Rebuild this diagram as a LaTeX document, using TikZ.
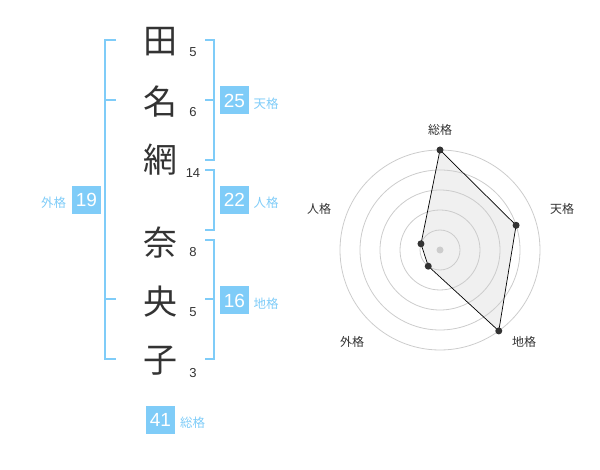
\documentclass[tikz,border=0pt]{standalone}
\usepackage{fontspec}
\setmainfont{Liberation Sans}
\newfontfamily\cjk{Noto Sans CJK JP}
\definecolor{sky}{RGB}{127,204,248}
\definecolor{ink}{RGB}{51,51,51}
\definecolor{ringc}{RGB}{204,204,204}
\definecolor{areac}{RGB}{240,240,240}
\begin{document}
\begin{tikzpicture}[x=1pt,y=-1pt,
  kanji/.style={font=\cjk\fontsize{34}{34}\selectfont, text=ink, inner sep=0},
  strokenum/.style={font=\fontsize{13}{13}\selectfont, text=ink, inner sep=0},
  valbox/.style={fill=sky, text=white, minimum width=29pt, minimum height=28pt, inner sep=0, font=\fontsize{19}{19}\selectfont},
  lab/.style={font=\cjk\fontsize{12.5}{12.5}\selectfont, text=sky, inner sep=0},
  brk/.style={draw=sky, line width=2pt},
  ring/.style={draw=ringc, line width=0.8pt},
  dot/.style={circle, fill=ink, inner sep=0, minimum size=7pt},
  axlab/.style={font=\cjk\fontsize{12}{12}\selectfont, text=ink, inner sep=0},
  edge/.style={draw=black, line width=0.7pt}]
\useasboundingbox (0,0) rectangle (600,470);

% kanji
\node[kanji] (k1) at (160,42) {田};
\node[kanji] (k2) at (160,101.5) {名};
\node[kanji] (k3) at (160,160) {網};
\node[kanji] (k4) at (160,243) {奈};
\node[kanji] (k5) at (160,301.5) {央};
\node[kanji] (k6) at (160,361) {子};
% stroke counts
\node[strokenum] (n1) at (193,52.5) {5};
\node[strokenum] (n2) at (193,112.5) {6};
\node[strokenum] (n3) at (193,173) {14};
\node[strokenum] (n4) at (193,252.5) {8};
\node[strokenum] (n5) at (193,312.5) {5};
\node[strokenum] (n6) at (193,373) {3};

% brackets
\draw[brk] (116,40) -- (105,40) -- (105,359) -- (116,359);
\draw[brk] (105,100) -- (116,100);
\draw[brk] (105,299.5) -- (116,299.5);
\draw[brk] (205,40) -- (214,40) -- (214,160) -- (205,160);
\draw[brk] (214,100) -- (205,100);
\draw[brk] (205,170) -- (214,170) -- (214,230) -- (205,230);
\draw[brk] (205,240) -- (214,240) -- (214,359) -- (205,359);
\draw[brk] (214,299.5) -- (205,299.5);

% value boxes
\node[valbox] (gai) at (86.5,200) {19};
\node[lab] (gail) at (53.5,203) {外格};
\node[valbox] (ten) at (234.5,100.5) {25};
\node[lab] (tenl) at (266,104) {天格};
\node[valbox] (jin) at (234.5,200) {22};
\node[lab] (jinl) at (266,203) {人格};
\node[valbox] (chi) at (234.5,300.5) {16};
\node[lab] (chil) at (266,304) {地格};
\node[valbox] (sou) at (160.5,419.5) {41};
\node[lab] (soul) at (192.5,422.5) {総格};

% radar
\begin{scope}[shift={(440,250)}]
  \coordinate (p1) at (-90:100);
  \coordinate (p2) at (-18:80);
  \coordinate (p3) at (54:100);
  \coordinate (p4) at (126:20);
  \coordinate (p5) at (198:20);
  \fill[areac] (p1) -- (p2) -- (p3) -- (p4) -- (p5) -- cycle;
  \foreach \r in {20,40,60,80,100} \draw[ring] (0,0) circle (\r);
  \fill[ringc] (0,0) circle (3.5);
  \draw[edge] (p1) -- (p2) -- (p3) -- (p4) -- (p5) -- cycle;
  \foreach \i in {1,...,5} \node[dot] (d\i) at (p\i) {};
\end{scope}
\node[axlab] (a1) at (440,130) {総格};
\node[axlab] (a2) at (562,208.5) {天格};
\node[axlab] (a3) at (524,342) {地格};
\node[axlab] (a4) at (352,342) {外格};
\node[axlab] (a5) at (319,208.5) {人格};
\end{tikzpicture}
\end{document}
